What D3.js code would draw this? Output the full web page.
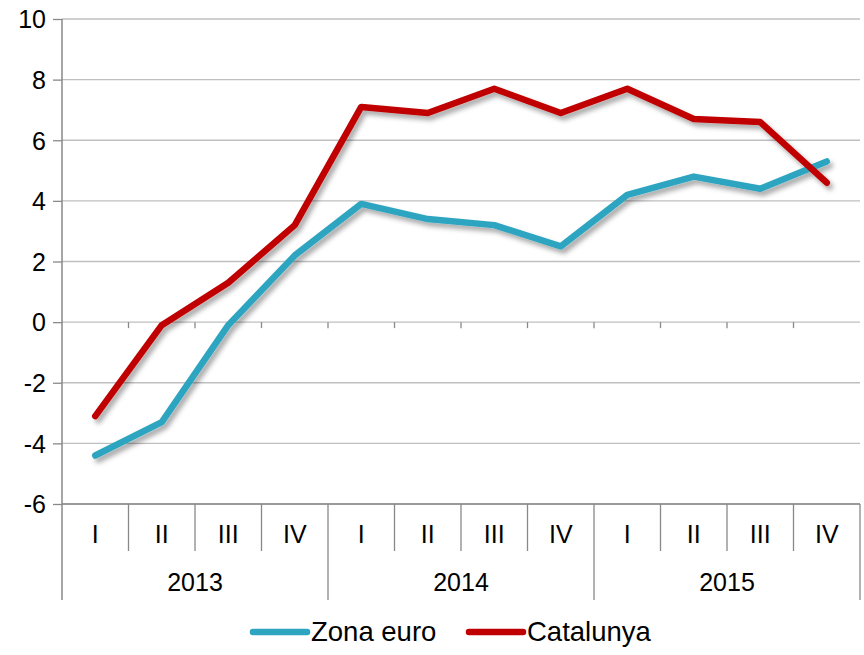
<!DOCTYPE html>
<html>
<head>
<meta charset="utf-8">
<script src="https://cdn.jsdelivr.net/npm/d3@7"></script>
<style>
  body { margin: 0; background: #fff; }
  text { font-family: "Liberation Sans", Arial, sans-serif; fill: #000; }
</style>
</head>
<body>
<script>
// dades
const anys = ["2013", "2014", "2015"];
const trimestres = ["I", "II", "III", "IV"];
const zonaEuro = [-4.4, -3.3, -0.1, 2.2, 3.9, 3.4, 3.2, 2.5, 4.2, 4.8, 4.4, 5.3];
const catalunya = [-3.1, -0.1, 1.3, 3.2, 7.1, 6.9, 7.7, 6.9, 7.7, 6.7, 6.6, 4.6];
const yTicks = [-6, -4, -2, 0, 2, 4, 6, 8, 10];

const categories = [];
anys.forEach(a => trimestres.forEach(t => categories.push(a + "-" + t)));

const width = 864, height = 655;
const margeEsq = 62, margeDret = 860, margeSup = 19, margeInf = 504;

const svg = d3.select("body").append("svg")
    .attr("width", width)
    .attr("height", height);

const defs = svg.append("defs");
const filt = defs.append("filter").attr("id", "ombra")
    .attr("x", "-10%").attr("y", "-10%").attr("width", "120%").attr("height", "130%");
filt.append("feDropShadow")
    .attr("dx", 3).attr("dy", 4).attr("stdDeviation", 2.5)
    .attr("flood-color", "#000").attr("flood-opacity", 0.35);

const x = d3.scaleBand().domain(categories).range([margeEsq, margeDret]).padding(0);
const y = d3.scaleLinear().domain([-6, 10]).range([margeInf, margeSup]);

// Graella
svg.append("g").selectAll("line").data(yTicks).join("line")
    .attr("x1", margeEsq).attr("x2", margeDret)
    .attr("y1", d => y(d)).attr("y2", d => y(d))
    .attr("stroke", "#bfbfbf").attr("stroke-width", 1.3);

// Eix Y
const yAxis = svg.append("g")
    .attr("transform", `translate(${margeEsq},0)`)
    .call(d3.axisLeft(y).tickValues(yTicks).tickSize(9).tickPadding(7).tickFormat(d3.format("d")));
yAxis.select(".domain").remove();
yAxis.selectAll(".tick line").attr("stroke", "#898989").attr("stroke-width", 1.3);
yAxis.selectAll(".tick text").attr("font-size", 25).attr("dy", "0.35em")
    .text(d => d < 0 ? "-" + Math.abs(d) : d);

svg.append("line")
    .attr("x1", margeEsq).attr("x2", margeEsq).attr("y1", margeSup).attr("y2", 600)
    .attr("stroke", "#898989").attr("stroke-width", 1.5);

// Marques a la línia del zero
svg.append("g").selectAll("line").data(categories.slice(1)).join("line")
    .attr("x1", d => x(d)).attr("x2", d => x(d))
    .attr("y1", y(0)).attr("y2", y(0) + 6)
    .attr("stroke", "#898989").attr("stroke-width", 1.3);

// Eix categories
svg.append("line")
    .attr("x1", margeEsq).attr("x2", margeDret).attr("y1", margeInf).attr("y2", margeInf)
    .attr("stroke", "#898989").attr("stroke-width", 1.3);

svg.append("g").selectAll("line").data(categories.slice(1)).join("line")
    .attr("x1", d => x(d)).attr("x2", d => x(d))
    .attr("y1", margeInf)
    .attr("y2", (d, i) => (i + 1) % 4 === 0 ? 600 : 551)
    .attr("stroke", "#898989").attr("stroke-width", 1.3);

svg.append("line")
    .attr("x1", margeDret).attr("x2", margeDret).attr("y1", margeInf).attr("y2", 600)
    .attr("stroke", "#898989").attr("stroke-width", 1.3);

svg.append("g").selectAll("text").data(categories).join("text")
    .attr("x", d => x(d) + x.bandwidth() / 2)
    .attr("y", 543)
    .attr("text-anchor", "middle")
    .attr("font-size", 25)
    .text(d => d.split("-")[1]);

svg.append("g").selectAll("text").data(anys).join("text")
    .attr("x", (d, i) => (x(categories[i * 4]) + x(categories[i * 4 + 3]) + x.bandwidth()) / 2)
    .attr("y", 591)
    .attr("text-anchor", "middle")
    .attr("font-size", 25)
    .text(d => d);

// Línies
const linia = d3.line()
    .x((d, i) => x(categories[i]) + x.bandwidth() / 2)
    .y(d => y(d));

const series = [
    { nom: "Zona euro", valors: zonaEuro, color: "#2EA5C0" },
    { nom: "Catalunya", valors: catalunya, color: "#C00000" }
];

svg.append("g").attr("filter", "url(#ombra)").selectAll("path").data(series).join("path")
    .attr("d", d => linia(d.valors))
    .attr("fill", "none")
    .attr("stroke", d => d.color)
    .attr("stroke-width", 6.5)
    .attr("stroke-linejoin", "round")
    .attr("stroke-linecap", "round");

// Llegenda
const llegX = [251, 467];
const lleg = svg.append("g").selectAll("g").data(series).join("g")
    .attr("transform", (d, i) => `translate(${llegX[i]},632)`);
lleg.append("line")
    .attr("x1", 2).attr("x2", 56).attr("y1", 0).attr("y2", 0)
    .attr("stroke", d => d.color).attr("stroke-width", 6.5)
    .attr("stroke-linecap", "round");
lleg.append("text")
    .attr("x", 60).attr("y", 9)
    .attr("font-size", 27.5)
    .text(d => d.nom);
</script>
</body>
</html>
